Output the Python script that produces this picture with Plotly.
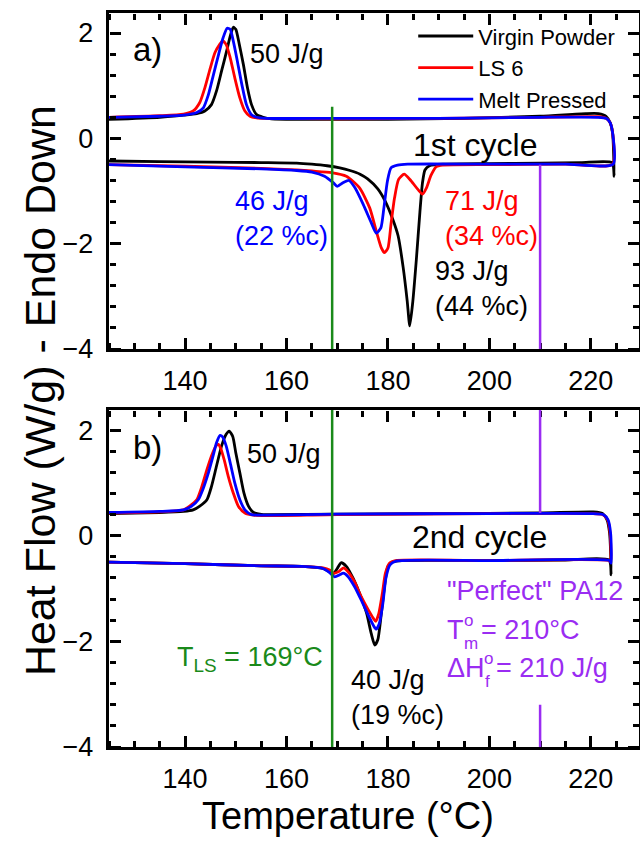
import plotly.graph_objects as go

# ---------------- Data (Temperature in °C, Heat flow in W/g) ----------------
# Panel a) 1st cycle.  Each loop = heating (lower, endo down) then cooling (upper).
a_vp_T = [125, 135, 145, 155, 162, 165, 168, 170.5, 172.5, 174.5, 176, 178, 179.5, 181, 182, 183,
          183.8, 184.3, 184.9, 185.6, 186.3, 186.8, 187.3, 188.2, 191, 200, 210, 218, 224.2, 224.6,
          224.5, 224.3, 223.8, 223, 221.5, 219, 210, 195, 180, 165, 157, 155.4, 154.1, 153.1, 152.3,
          151.5, 150.7, 150.0, 149.5, 148.9, 148.2, 147.2, 146.2, 145.2, 143.9, 142.3, 139.7, 135, 125]
a_vp_HF = [-0.43, -0.44, -0.45, -0.46, -0.47, -0.49, -0.52, -0.56, -0.61, -0.68, -0.77, -0.96, -1.2, -1.55, -1.85, -2.45,
           -3.09, -3.56, -3.1, -2.3, -1.4, -0.85, -0.6, -0.52, -0.49, -0.48, -0.47, -0.46, -0.46, -0.72,
           -0.3, 0.1, 0.3, 0.42, 0.47, 0.47, 0.42, 0.38, 0.36, 0.36, 0.37, 0.40, 0.45, 0.64, 0.96,
           1.40, 1.78, 2.07, 2.11, 1.94, 1.66, 1.28, 0.90, 0.64, 0.52, 0.47, 0.44, 0.40, 0.36]

a_ls_T = [125, 140, 155, 162, 165, 168.9, 171.8, 174.4, 176.4, 177.7, 178.7, 179.3, 180.0, 180.6, 181.3,
          182.1, 183.2, 184.5, 185.9, 186.8, 187.6, 188.5, 189.5, 190.8, 200, 215, 224.3,
          224.3, 223.8, 223, 221.5, 210, 190, 170, 156, 154.1, 152.8, 151.8, 150.8, 149.8, 148.9,
          148.1, 147.4, 146.8, 145.9, 144.9, 143.9, 142.9, 141.6, 139.7, 135, 125]
a_ls_HF = [-0.50, -0.53, -0.57, -0.60, -0.62, -0.65, -0.72, -0.94, -1.32, -1.76, -2.08, -2.17, -2.08, -1.63, -1.13,
           -0.78, -0.68, -0.80, -0.97, -1.06, -0.94, -0.70, -0.54, -0.51, -0.50, -0.49, -0.49,
           0.1, 0.3, 0.38, 0.41, 0.40, 0.38, 0.37, 0.38, 0.39, 0.42, 0.52, 0.77, 1.15, 1.53,
           1.78, 1.85, 1.78, 1.63, 1.31, 0.96, 0.68, 0.52, 0.46, 0.43, 0.40]

a_mp_T = [125, 140, 155, 162, 165, 167.5, 169.2, 170.0, 171.2, 172.3, 173.5, 175.1, 176.7, 177.7, 178.6,
          179.2, 179.9, 180.6, 181.9, 183.9, 200, 215, 224.4,
          224.3, 223.8, 223, 221.5, 210, 190, 170, 156, 154.1, 153.1, 152.1, 151.2, 150.3, 149.5,
          148.9, 148.3, 147.5, 146.6, 145.6, 144.6, 143.6, 142.3, 139.7, 135, 125]
a_mp_HF = [-0.50, -0.54, -0.58, -0.61, -0.64, -0.72, -0.84, -0.91, -0.84, -0.80, -0.94, -1.25, -1.60, -1.80, -1.70,
           -1.32, -0.81, -0.56, -0.51, -0.49, -0.49, -0.49, -0.49,
           0.1, 0.3, 0.38, 0.40, 0.40, 0.38, 0.38, 0.38, 0.40, 0.45, 0.64, 1.02, 1.47, 1.85,
           2.07, 2.09, 1.91, 1.59, 1.21, 0.83, 0.58, 0.49, 0.44, 0.42, 0.40]

# Panel b) 2nd cycle
b_vp_T = [125, 140, 155, 163, 167.2, 168.5, 169.3, 170.0, 170.8, 171.8, 173.1, 174.4, 175.8, 176.7, 177.4,
          178.0, 178.7, 179.4, 180.0, 181.0, 183, 200, 215, 223.6, 224.0,
          223.9, 223.7, 223.2, 222.3, 220.5, 210, 190, 170, 157, 155.4, 153.5, 152.5, 151.6, 150.8,
          150.0, 149.4, 148.7, 148.1, 147.2, 146.2, 145.2, 144.3, 142.9, 141.6, 139.7, 135, 125]
b_vp_HF = [-0.50, -0.53, -0.57, -0.58, -0.62, -0.68, -0.71, -0.62, -0.51, -0.58, -0.80, -1.09, -1.47, -1.85, -2.07,
           -1.97, -1.47, -0.90, -0.58, -0.49, -0.47, -0.47, -0.46, -0.46, -0.74,
           -0.3, 0.05, 0.30, 0.42, 0.45, 0.43, 0.42, 0.41, 0.40, 0.40, 0.44, 0.56, 0.81, 1.19,
           1.57, 1.88, 1.98, 1.92, 1.70, 1.32, 0.93, 0.68, 0.56, 0.49, 0.46, 0.44, 0.42]

b_ls_T = [125, 140, 155, 163, 167.2, 168.5, 169.3, 170.3, 171.2, 172.1, 173.4, 174.7, 176.1, 177.1, 177.6,
          178.2, 178.9, 179.5, 180.3, 181.6, 200, 223.6, 223.9,
          223.8, 223.3, 222.3, 220, 200, 170, 156, 153.5, 151.8, 150.5, 149.5, 148.5, 147.7,
          147.0, 146.6, 146.1, 145.2, 144.3, 143.3, 142.3, 140.9, 139.7, 135, 125]
b_ls_HF = [-0.50, -0.53, -0.57, -0.58, -0.61, -0.65, -0.71, -0.68, -0.61, -0.68, -0.87, -1.15, -1.40, -1.56, -1.62,
           -1.47, -1.09, -0.71, -0.52, -0.47, -0.47, -0.47, -0.50,
           0.05, 0.30, 0.40, 0.42, 0.42, 0.40, 0.38, 0.39, 0.43, 0.56, 0.81, 1.13, 1.44,
           1.66, 1.73, 1.70, 1.51, 1.25, 0.93, 0.68, 0.56, 0.49, 0.45, 0.43]

b_mp_T = [125, 140, 155, 163, 167.2, 168.5, 169.5, 170.5, 171.2, 172.1, 173.4, 174.7, 176.1, 177.2, 177.7,
          178.3, 179.0, 179.6, 180.4, 181.6, 200, 223.7, 224.0,
          223.9, 223.4, 222.4, 220, 200, 170, 156, 153.1, 151.8, 150.8, 149.8, 148.9, 148.1,
          147.4, 146.9, 146.2, 145.6, 144.6, 143.6, 142.6, 141.3, 139.7, 135, 125]
b_mp_HF = [-0.50, -0.53, -0.57, -0.58, -0.62, -0.70, -0.78, -0.74, -0.71, -0.77, -0.96, -1.21, -1.50, -1.71, -1.77,
           -1.66, -1.28, -0.80, -0.55, -0.48, -0.47, -0.47, -0.52,
           0.05, 0.30, 0.40, 0.42, 0.42, 0.41, 0.39, 0.40, 0.49, 0.68, 1.00, 1.38, 1.70,
           1.87, 1.90, 1.76, 1.54, 1.19, 0.90, 0.68, 0.56, 0.49, 0.46, 0.44]

sample_names = ["Virgin Powder", "LS 6", "Melt Pressed"]
sample_colors = ["#000000", "#ff0000", "#0000ff"]

T_LS = 169      # laser sintering bed temperature
T_M0 = 210      # equilibrium melting point of perfect PA12

FONT = "Liberation Sans, Arial, sans-serif"
PURPLE = "#9a2cf2"
GREEN = "#1a8a1a"

Y_RANGE = [-4, 2.38]
X_RANGE = [125, 229.5]
DOM_A = [0.5422, 1.0]     # panel a) vertical extent (paper)
DOM_B = [0.0, 0.4591]     # panel b) vertical extent (paper)

fig = go.Figure()

panel_a = [(a_vp_T, a_vp_HF), (a_ls_T, a_ls_HF), (a_mp_T, a_mp_HF)]
panel_b = [(b_vp_T, b_vp_HF), (b_ls_T, b_ls_HF), (b_mp_T, b_mp_HF)]

for (t, hf), name, col in zip(panel_a, sample_names, sample_colors):
    fig.add_trace(go.Scatter(x=t, y=hf, mode="lines", name=name,
                             line=dict(color=col, width=2.8, shape="spline", smoothing=0.6),
                             xaxis="x", yaxis="y", showlegend=True))
for (t, hf), name, col in zip(panel_b, sample_names, sample_colors):
    fig.add_trace(go.Scatter(x=t, y=hf, mode="lines", name=name,
                             line=dict(color=col, width=2.8, shape="spline", smoothing=0.6),
                             xaxis="x2", yaxis="y2", showlegend=False))

# reference temperature lines
fig.add_shape(type="line", xref="x", yref="y", x0=T_LS, x1=T_LS, y0=-4, y1=0.6,
              line=dict(color=GREEN, width=2.5))
fig.add_shape(type="line", xref="x2", yref="y2", x0=T_LS, x1=T_LS, y0=-4, y1=Y_RANGE[1],
              line=dict(color=GREEN, width=2.5))
fig.add_shape(type="line", xref="x", yref="y", x0=T_M0, x1=T_M0, y0=-4, y1=-0.5,
              line=dict(color=PURPLE, width=2.5))
fig.add_shape(type="line", xref="x2", yref="y2", x0=T_M0, x1=T_M0, y0=0.43, y1=Y_RANGE[1],
              line=dict(color=PURPLE, width=2.5))
fig.add_shape(type="line", xref="x2", yref="y2", x0=T_M0, x1=T_M0, y0=-4, y1=-3.2,
              line=dict(color=PURPLE, width=2.5))

tickfont = dict(family=FONT, size=27, color="black")

# Axes carrying the frame and the tick labels
label_x = dict(showline=True, linecolor="black", linewidth=2.5, mirror=True, ticks="",
               showgrid=False, zeroline=False, tickfont=tickfont, automargin=False,
               range=X_RANGE, tick0=140, dtick=20, ticklabelstandoff=6, domain=[0, 1])
label_y = dict(showline=True, linecolor="black", linewidth=2.5, mirror=True, ticks="",
               showgrid=False, zeroline=False, tickfont=tickfont, automargin=False,
               range=Y_RANGE, tick0=-4, dtick=2, ticksuffix=" ")

# Tick-only axes: outward ticks of an axis placed on the opposite side point into the frame
def tick_x(over, pos, side):
    return dict(overlaying=over, anchor="free", position=pos, side=side, range=X_RANGE,
                tick0=140, dtick=20, ticks="outside", ticklen=11, tickwidth=2.5, tickcolor="black",
                minor=dict(dtick=5, ticks="outside", ticklen=6, tickwidth=2.5, tickcolor="black"),
                showticklabels=False, showline=False, showgrid=False, zeroline=False,
                automargin=False)

def tick_y(over, pos, side):
    return dict(overlaying=over, anchor="free", position=pos, side=side, range=Y_RANGE,
                tick0=-4, dtick=2, ticks="outside", ticklen=11, tickwidth=2.5, tickcolor="black",
                minor=dict(dtick=0.4, ticks="outside", ticklen=6, tickwidth=2.5, tickcolor="black"),
                showticklabels=False, showline=False, showgrid=False, zeroline=False,
                automargin=False)

fig.update_layout(
    template="none",
    width=640, height=841,
    margin=dict(l=109, r=1, t=13, b=94),
    paper_bgcolor="white", plot_bgcolor="white",
    font=dict(family=FONT, color="black"),
    xaxis=dict(label_x, anchor="y"),
    yaxis=dict(label_y, domain=DOM_A, anchor="x"),
    xaxis2=dict(label_x, anchor="y2"),
    yaxis2=dict(label_y, domain=DOM_B, anchor="x2"),
    # panel a frame ticks
    xaxis3=tick_x("x", DOM_A[0], "top"),
    xaxis4=tick_x("x", DOM_A[1], "bottom"),
    yaxis3=tick_y("y", 0, "right"),
    yaxis4=tick_y("y", 1, "left"),
    # panel b frame ticks
    xaxis5=tick_x("x2", DOM_B[0], "top"),
    xaxis6=tick_x("x2", DOM_B[1], "bottom"),
    yaxis5=tick_y("y2", 0, "right"),
    yaxis6=tick_y("y2", 1, "left"),
    legend=dict(x=0.574, y=0.997, xanchor="left", yanchor="top", itemwidth=55,
                font=dict(family=FONT, size=22, color="black"),
                bgcolor="rgba(0,0,0,0)", tracegroupgap=0),
)

# empty traces so that every tick-only axis belongs to a drawn subplot
for xa_, ya_ in [("x3", "y"), ("x4", "y"), ("x", "y3"), ("x", "y4"),
                 ("x5", "y2"), ("x6", "y2"), ("x2", "y5"), ("x2", "y6")]:
    fig.add_trace(go.Scatter(x=[], y=[], xaxis=xa_, yaxis=ya_, mode="lines",
                             showlegend=False, hoverinfo="skip"))

def note(text, x, y, ax="x", ay="y", size=27, color="black", xanchor="left", yanchor="middle"):
    fig.add_annotation(text=text, x=x, y=y, xref=ax, yref=ay, showarrow=False,
                       xanchor=xanchor, yanchor=yanchor, align="left",
                       font=dict(family=FONT, size=size, color=color))

# panel a labels
note("a)", 129.4, 1.69, size=33)
note("50 J/g", 152.4, 1.60)
note("1st cycle", 197.1, -0.13, size=32, xanchor="center")
note("46 J/g<br>(22 %c)", 149.4, -1.53, color="#0000ff")
note("71 J/g<br>(34 %c)", 190.8, -1.53, color="#ff0000")
note("93 J/g<br>(44 %c)", 188.8, -2.86)

# panel b labels
note("b)", 129.4, 1.67, "x2", "y2", size=33)
note("50 J/g", 151.8, 1.54, "x2", "y2")
note("2nd cycle", 198.1, -0.02, "x2", "y2", size=32, xanchor="center")
note("\"Perfect\" PA12", 191.2, -1.04, "x2", "y2", color=PURPLE)
note("T", 191.2, -1.78, "x2", "y2", color=PURPLE)
note("o", 194.6, -1.60, "x2", "y2", size=17, color=PURPLE)
note("m", 194.6, -2.04, "x2", "y2", size=17, color=PURPLE)
note("= 210°C", 197.9, -1.78, "x2", "y2", color=PURPLE)
note("ΔH", 191.2, -2.50, "x2", "y2", color=PURPLE)
note("o", 198.6, -2.32, "x2", "y2", size=17, color=PURPLE)
note("f", 198.8, -2.76, "x2", "y2", size=17, color=PURPLE)
note("= 210 J/g", 200.9, -2.50, "x2", "y2", color=PURPLE)
note("T<sub>LS</sub> = 169°C", 138.0, -2.33, "x2", "y2", color=GREEN)
note("40 J/g<br>(19 %c)", 172.3, -3.07, "x2", "y2")

# axis titles
fig.add_annotation(text="Heat Flow (W/g) - Endo Down", xref="paper", yref="paper",
                   x=-0.130, y=0.485, xanchor="center", yanchor="middle", textangle=-90,
                   showarrow=False, font=dict(family=FONT, size=43, color="black"))
fig.add_annotation(text="Temperature (°C)", xref="paper", yref="paper",
                   x=0.45, y=-0.0935, xanchor="center", yanchor="middle",
                   showarrow=False, font=dict(family=FONT, size=38, color="black"))

fig.write_html("out.html")
